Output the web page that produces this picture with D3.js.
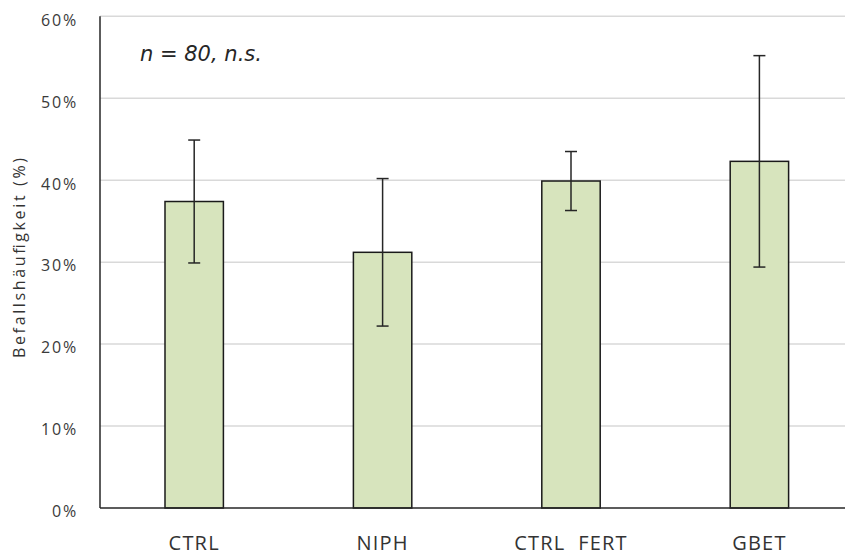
<!DOCTYPE html>
<html>
<head>
<meta charset="utf-8">
<script src="https://cdn.jsdelivr.net/npm/d3@7"></script>
<style>
  body { margin: 0; background: #fff; }
  svg { display: block; font-family: 'Open Sans', 'DejaVu Sans', sans-serif; }
</style>
</head>
<body>
<svg id="chart" width="845" height="555"></svg>
<script>
// data
const categories = ['CTRL', 'NIPH', 'CTRL  FERT', 'GBET']
const means = [37.4, 31.2, 39.9, 42.3]
const errors = [7.5, 9.0, 3.6, 12.9]
const yTicks = [0, 10, 20, 30, 40, 50, 60]
const note = 'n = 80, n.s.'
const yTitle = 'Befallshäufigkeit (%)'

const data = categories.map((c, i) => ({ cat: c, mean: means[i], err: errors[i] }))

const svg = d3.select('#chart')
const margin = { top: 16.3, left: 100, bottom: 47 }
const plotBottom = 555 - margin.bottom
const plotRight = 853.6 // plot area runs off the right edge

const x = d3
  .scaleBand()
  .domain(categories)
  .range([margin.left, plotRight])
  .paddingInner(0.69)
  .paddingOuter(0.345)

const y = d3.scaleLinear().domain([0, 60]).range([plotBottom, margin.top])

// gridlines
svg.append('g')
  .selectAll('line')
  .data(yTicks.filter((t) => t > 0))
  .enter()
  .append('line')
  .attr('x1', margin.left)
  .attr('x2', plotRight)
  .attr('y1', (d) => y(d))
  .attr('y2', (d) => y(d))
  .attr('stroke', '#d9d9d9')
  .attr('stroke-width', 1.5)

// y axis labels
const yAxis = svg.append('g')
  .attr('transform', 'translate(' + margin.left + ',0)')
  .call(d3.axisLeft(y).tickValues(yTicks).tickFormat((d) => d + '%').tickSize(0).tickPadding(22))
yAxis.select('.domain').remove()
yAxis.selectAll('text')
  .attr('font-family', "'Open Sans', sans-serif")
  .attr('font-size', 16)
  .attr('letter-spacing', 1.8)
  .attr('fill', '#3a3a3a')
  .attr('dy', '0.55em')

// bars
svg.append('g')
  .selectAll('rect')
  .data(data)
  .enter()
  .append('rect')
  .attr('x', (d) => x(d.cat))
  .attr('y', (d) => y(d.mean))
  .attr('width', x.bandwidth())
  .attr('height', (d) => y(0) - y(d.mean))
  .attr('fill', '#d7e4bd')
  .attr('stroke', '#1a1a1a')
  .attr('stroke-width', 1.5)

// error bars
const eb = svg.append('g')
  .attr('stroke', '#262626')
  .attr('stroke-width', 1.5)
  .selectAll('g')
  .data(data)
  .enter()
  .append('g')
  .attr('transform', (d) => 'translate(' + (x(d.cat) + x.bandwidth() / 2) + ',0)')

eb.append('line')
  .attr('y1', (d) => y(d.mean - d.err))
  .attr('y2', (d) => y(d.mean + d.err))
eb.append('line')
  .attr('x1', -6).attr('x2', 6)
  .attr('y1', (d) => y(d.mean + d.err))
  .attr('y2', (d) => y(d.mean + d.err))
eb.append('line')
  .attr('x1', -6).attr('x2', 6)
  .attr('y1', (d) => y(d.mean - d.err))
  .attr('y2', (d) => y(d.mean - d.err))

// axis lines
svg.append('line')
  .attr('x1', margin.left).attr('x2', margin.left)
  .attr('y1', y(60)).attr('y2', y(0))
  .attr('stroke', '#262626').attr('stroke-width', 1.5)
svg.append('line')
  .attr('x1', margin.left).attr('x2', plotRight)
  .attr('y1', y(0)).attr('y2', y(0))
  .attr('stroke', '#262626').attr('stroke-width', 1.5)

// x labels
svg.append('g')
  .selectAll('text')
  .data(categories)
  .enter()
  .append('text')
  .attr('x', (d) => x(d) + x.bandwidth() / 2)
  .attr('y', 550)
  .attr('text-anchor', 'middle')
  .attr('font-size', 20)
  .attr('letter-spacing', 1.2)
  .attr('fill', '#333')
  .style('white-space', 'pre')
  .text((d) => d)

// y title
svg.append('text')
  .attr('transform', 'translate(25,258) rotate(-90)')
  .attr('text-anchor', 'middle')
  .attr('font-size', 16)
  .attr('textLength', 200)
  .attr('lengthAdjust', 'spacing')
  .attr('fill', '#333')
  .text(yTitle)

// annotation
svg.append('text')
  .attr('x', 140)
  .attr('y', 61)
  .attr('font-family', "'DejaVu Sans', sans-serif")
  .attr('font-size', 21)
  .attr('font-style', 'italic')
  .attr('fill', '#262626')
  .text(note)
</script>
</body>
</html>
